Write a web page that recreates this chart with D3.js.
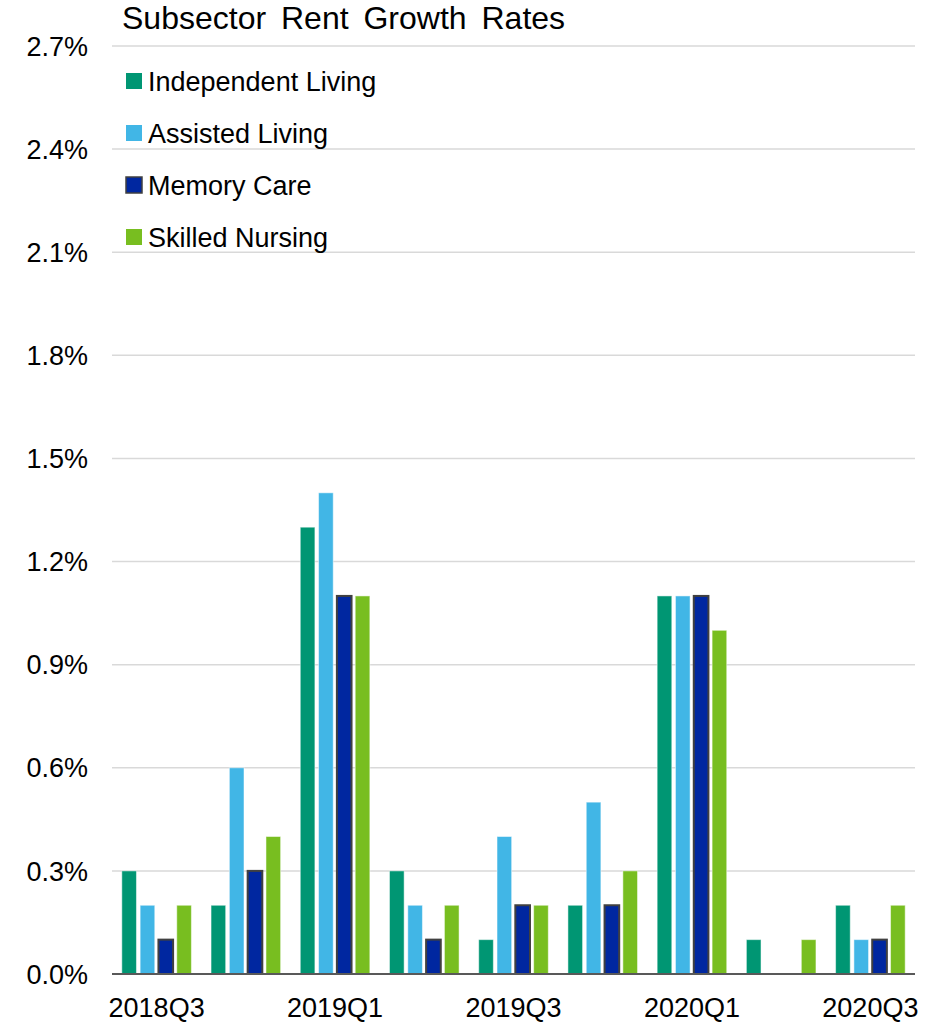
<!DOCTYPE html>
<html>
<head>
<meta charset="utf-8">
<script src="https://cdn.jsdelivr.net/npm/d3@7"></script>
<style>
  body { margin: 0; background: #fff; }
  text { font-family: "Liberation Sans", Arial, sans-serif; fill: #000; }
</style>
</head>
<body>
<svg id="chart"></svg>
<script>
const quarters = ["2018Q3", "2018Q4", "2019Q1", "2019Q2", "2019Q3", "2019Q4", "2020Q1", "2020Q2", "2020Q3"]
const seriesNames = ["Independent Living", "Assisted Living", "Memory Care", "Skilled Nursing"]
const independentLiving = [0.3, 0.2, 1.3, 0.3, 0.1, 0.2, 1.1, 0.1, 0.2]
const assistedLiving    = [0.2, 0.6, 1.4, 0.2, 0.4, 0.5, 1.1, 0.0, 0.1]
const memoryCare        = [0.1, 0.3, 1.1, 0.1, 0.2, 0.2, 1.1, 0.0, 0.1]
const skilledNursing    = [0.2, 0.4, 1.1, 0.2, 0.2, 0.3, 1.0, 0.1, 0.2]
const yTicks = [0, 0.3, 0.6, 0.9, 1.2, 1.5, 1.8, 2.1, 2.4, 2.7]
const xLabels = ["2018Q3", "2019Q1", "2019Q3", "2020Q1", "2020Q3"]

const colors = ["#009673", "#41B6E6", "#0027A0", "#78BE20"]
const values = [independentLiving, assistedLiving, memoryCare, skilledNursing]

const width = 939
const height = 1024
const margin = { left: 112, right: 24, top: 46, bottom: 50 }

const svg = d3.select("#chart")
              .attr("width", width)
              .attr("height", height)

const x = d3.scaleBand()
            .domain(quarters)
            .range([margin.left, width - margin.right])
            .paddingInner(0.22)
            .paddingOuter(0.11)

const xs = d3.scaleBand()
             .domain(seriesNames)
             .range([0, x.bandwidth()])
             .paddingInner(0.2)

const y = d3.scaleLinear()
            .domain([0, 2.7])
            .range([height - margin.bottom, margin.top])

// gridlines
svg.append("g")
   .selectAll("line")
   .data(yTicks.slice(1))
   .join("line")
     .attr("x1", margin.left)
     .attr("x2", width - margin.right)
     .attr("y1", d => y(d))
     .attr("y2", d => y(d))
     .attr("stroke", "#d9d9d9")
     .attr("stroke-width", 1.5)

// y labels
svg.append("g")
   .selectAll("text")
   .data(yTicks)
   .join("text")
     .attr("x", 88)
     .attr("y", d => y(d))
     .attr("dy", "0.36em")
     .attr("text-anchor", "end")
     .attr("font-size", 27)
     .text(d => d.toFixed(1) + "%")

// bars
const group = svg.append("g")
                 .selectAll("g")
                 .data(quarters)
                 .join("g")
                 .attr("transform", d => `translate(${x(d)},0)`)

group.selectAll("rect")
     .data((q, i) => seriesNames.map((s, j) => ({ s, j, v: values[j][i] })))
     .join("rect")
       .filter(d => d.v > 0)
       .attr("x", d => xs(d.s))
       .attr("width", xs.bandwidth())
       .attr("y", d => y(d.v))
       .attr("height", d => y(0) - y(d.v))
       .attr("fill", d => colors[d.j])
       .attr("stroke", d => d.j === 2 ? "#404040" : "#ffffff")
       .attr("stroke-opacity", d => d.j === 2 ? 1 : 0.5)
       .attr("stroke-width", d => d.j === 2 ? 2 : 1)

// baseline
svg.append("line")
   .attr("x1", margin.left)
   .attr("x2", width - margin.right)
   .attr("y1", y(0))
   .attr("y2", y(0))
   .attr("stroke", "#595959")
   .attr("stroke-width", 2)

// x labels
svg.append("g")
   .selectAll("text")
   .data(xLabels)
   .join("text")
     .attr("x", d => x(d) + x.bandwidth() / 2)
     .attr("y", 1017)
     .attr("text-anchor", "middle")
     .attr("font-size", 27)
     .text(d => d)

// title
svg.append("text")
   .attr("x", 122)
   .attr("y", 29)
   .attr("font-size", 32)
   .attr("word-spacing", 6)
   .text("Subsector Rent Growth Rates")

// legend
const legend = svg.append("g")
                  .selectAll("g")
                  .data(seriesNames)
                  .join("g")
                  .attr("transform", (d, i) => `translate(126,${81 + i * 52})`)

legend.append("rect")
      .attr("x", 0)
      .attr("y", -8)
      .attr("width", 16)
      .attr("height", 16)
      .attr("fill", (d, i) => colors[i])
      .attr("stroke", (d, i) => i === 2 ? "#404040" : "none")
      .attr("stroke-width", 1.5)

legend.append("text")
      .attr("x", 22)
      .attr("dy", "0.36em")
      .attr("font-size", 27)
      .text(d => d)
</script>
</body>
</html>
